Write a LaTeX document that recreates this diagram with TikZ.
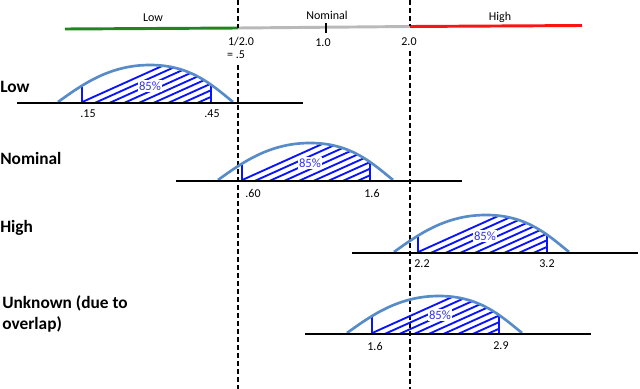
\documentclass[tikz,border=0pt]{standalone}
\usepackage{fontspec}
\setmainfont{Carlito}
\definecolor{axgreen}{RGB}{30,135,30}
\definecolor{axgrey}{RGB}{185,185,185}
\definecolor{axred}{RGB}{250,20,20}
\definecolor{bumpblue}{RGB}{88,140,200}
\definecolor{hatchblue}{RGB}{10,20,250}
\definecolor{pctblue}{RGB}{50,50,240}
\newcommand\bumppath[2]{(#1,#2-1) .. controls +(25,-18) and +(-40,0) .. (#1+92,#2-38) .. controls +(40,0) and +(-22,-18) .. (#1+175,#2-1)}
\newcommand\distrow[7]{% #1 start x of curve, #2 baseline y, #3 axis left, #4 axis right, #5 left line x, #6 right line x, #7 name
  \begin{scope}
    \clip \bumppath{#1}{#2} -- (#1+175,#2+3) -- (#1,#2+3) -- cycle;
    \begin{scope}
      \clip (#5,#2) rectangle (#6,#2-50);
      \foreach \k in {0,...,17}
        \draw[hatchline] (#5-2,#2+\k*6.6) -- ++(150,-67.5);
    \end{scope}
    \draw[limline] (#5,#2) -- (#5,#2-40);
    \draw[limline] (#6,#2) -- (#6,#2-40);
  \end{scope}
  \draw[bumpline] \bumppath{#1}{#2};
  \draw[baseline] (#3,#2) -- (#4,#2);
}
\tikzset{
  hatchline/.style={hatchblue, line width=1.4pt},
  limline/.style={hatchblue, line width=1.7pt},
  bumpline/.style={bumpblue, line width=2pt},
  baseline/.style={black, line width=1.2pt},
  divider/.style={black, line width=1.1pt, dash pattern=on 3.5pt off 2.5pt},
  toplabel/.style={font=\fontsize{9}{10.5}\selectfont, inner sep=0pt},
  numlabel/.style={font=\fontsize{9}{10.5}\selectfont, inner sep=0pt},
  pctlabel/.style={font=\fontsize{9.5}{11}\selectfont, text=pctblue, fill=white, inner sep=1pt},
  rowlabel/.style={font=\fontsize{13}{15.5}\selectfont\bfseries, inner sep=0pt, anchor=west, align=left},
}
\begin{document}
\begin{tikzpicture}[x=0.75pt,y=-0.75pt]
\useasboundingbox (0,0) rectangle (640,389);
% top axis
\draw[axgreen, line width=2.2pt] (65,29) -- (238,28);
\draw[axgrey, line width=2.2pt] (238,28) -- (410,26.5);
\draw[axred, line width=2.2pt] (410,26.5) -- (582,25.5);
\draw[black, line width=1.2pt] (326,23) -- (326,33);
\node[toplabel] (tlow) at (153,18) {Low};
\node[toplabel] (tnom) at (327,15) {Nominal};
\node[toplabel] (thigh) at (500,17) {High};
\node[numlabel] (half) at (241,42) {1/2.0};
\node[numlabel] (halfb) at (236,55) {= .5};
\node[numlabel] (one) at (323,43) {1.0};
\node[numlabel] (two) at (409,42) {2.0};
% dividers
\draw[divider] (238,0) -- (238,28);
\draw[divider] (238,65) -- (238,389);
\draw[divider] (410,0) -- (410,26);
\draw[divider] (410,51) -- (410,389);
% rows
\distrow{58}{103}{17}{303}{82}{211}{low}
\node[pctlabel] (p1) at (150,86) {85\%};
\node[numlabel] (l1a) at (88,114) {.15};
\node[numlabel] (l1b) at (212,114) {.45};
\node[rowlabel] (rlow) at (0,87) {Low};

\distrow{218}{181}{176}{462}{242}{370}{nom}
\node[pctlabel] (p2) at (310,163) {85\%};
\node[numlabel] (l2a) at (253,193) {.60};
\node[numlabel] (l2b) at (372,193) {1.6};
\node[rowlabel] (rnom) at (0,158) {Nominal};

\distrow{394}{253}{352}{638}{418}{547}{high}
\node[pctlabel] (p3) at (485,236) {85\%};
\node[numlabel] (l3a) at (422,264) {2.2};
\node[numlabel] (l3b) at (547,264) {3.2};
\node[rowlabel] (rhigh) at (0,228) {High};

\distrow{347}{334}{305}{591}{372}{499}{unk}
\node[pctlabel] (p4) at (440,315) {85\%};
\node[numlabel] (l4a) at (375,346) {1.6};
\node[numlabel] (l4b) at (501,346) {2.9};
\node[rowlabel] (runk) at (2,314) {Unknown (due to\\overlap)};
\end{tikzpicture}
\end{document}
